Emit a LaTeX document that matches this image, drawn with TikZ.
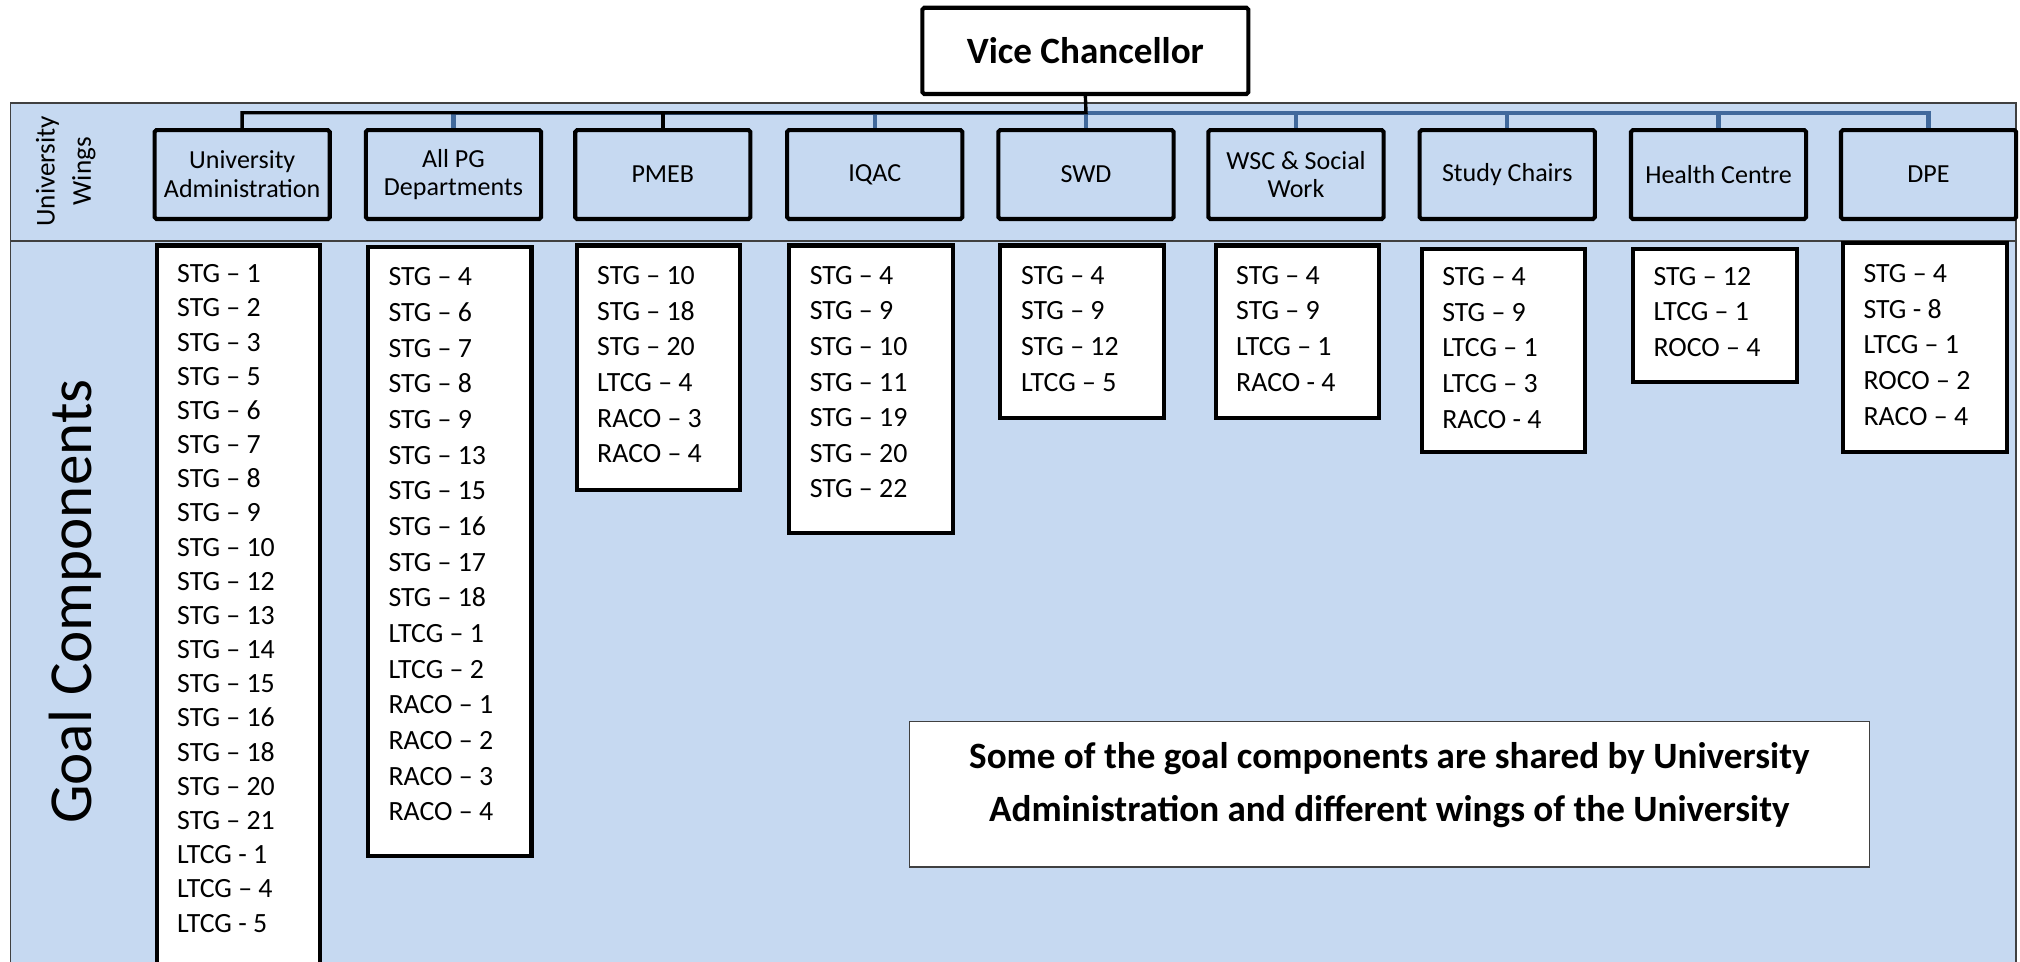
\documentclass[tikz,border=0pt]{standalone}
\usepackage{fontspec}
\setmainfont{Carlito}
\definecolor{bandblue}{HTML}{C6D9F1}
\definecolor{connblue}{HTML}{41699C}
\definecolor{bordergray}{HTML}{404040}
\newcommand{\glines}[2]{\raisebox{#1}[\height][\depth]{\parbox[c]{1.9cm}{\raggedright #2}}}
\begin{document}
\begin{tikzpicture}[x=0.02cm,y=-0.02cm,
  wing/.style={draw=black, line width=1.8pt, fill=bandblue, minimum width=2.72cm, minimum height=1.38cm,
    align=center, font=\fontsize{11.5}{12.8}\selectfont, inner sep=1pt, rounded corners=0.8pt},
  glist/.style={draw=black, line width=1.8pt, fill=white, anchor=north west, inner xsep=0.32cm, inner ysep=0pt,
    minimum width=2.54cm, font=\fontsize{12.3}{15.75}\selectfont},
  vcbox/.style={draw=black, line width=1.8pt, fill=white, minimum width=5.06cm, minimum height=1.34cm,
    font=\bfseries\fontsize{16.4}{20}\selectfont, rounded corners=0.8pt},
  notebox/.style={draw=bordergray, line width=0.6pt, fill=white, minimum width=14.9cm, minimum height=2.26cm},
  notetext/.style={align=center, font=\bfseries\fontsize{16.4}{23.2}\selectfont},
  sidelabel/.style={rotate=90, align=center},
  bluec/.style={draw=connblue, line width=1.9pt},
  blackc/.style={draw=black, line width=1.5pt}]
\useasboundingbox (0,0) rectangle (1568,746);
% background band and lower region
\fill[bandblue] (8,80) rectangle (1565,770);
\draw[bordergray, line width=0.6pt] (8,770) -- (8,80) -- (1565,80) -- (1565,770);
\draw[bordergray, line width=0.6pt] (8,187) -- (1565,187);
% side labels
\node[sidelabel, font=\fontsize{12}{16}\selectfont] (uwlabel) at (51,133) {University\\Wings};
\node[sidelabel, font=\fontsize{27}{30}\selectfont] (gclabel) at (58,467) {Goal Components};
% vice chancellor
\node[vcbox] (vc) at (842.5,39.5) {Vice Chancellor};
% wings
\node[wing] (w1) at (188,135.5) {University\\Administration};
\node[wing] (w2) at (352,135.5) {All PG\\Departments};
\node[wing] (w3) at (514.5,135.5) {PMEB};
\node[wing] (w4) at (679,135.5) {IQAC};
\node[wing] (w5) at (843,135.5) {SWD};
\node[wing] (w6) at (1006,135.5) {WSC \& Social\\Work};
\node[wing] (w7) at (1170,135.5) {Study Chairs};
\node[wing] (w8) at (1334,135.5) {Health Centre};
\node[wing] (w9) at (1497,135.5) {DPE};
% connectors
\coordinate (busB) at (843,87.5);
\coordinate (busK) at (843,87.5);
\draw[bluec] (w2.north) |- (busB) -| (w9.north);
\foreach \n in {w4,w5,w6,w7,w8} \draw[bluec] (\n.north) -- (\n.north |- busB);
\draw[blackc] (w1.north) |- (busK) -- (vc.south);
\draw[blackc] (w3.north) -- (w3.north |- busK);
% goal lists
\node[glist, minimum height=11.62cm] (g1) at (120,189) {\glines{9.4pt}{\fontsize{12.3}{15.1}\selectfont STG – 1\\STG – 2\\STG – 3\\STG – 5\\STG – 6\\STG – 7\\STG – 8\\STG – 9\\STG – 10\\STG – 12\\STG – 13\\STG – 14\\STG – 15\\STG – 16\\STG – 18\\STG – 20\\STG – 21\\LTCG - 1\\LTCG – 4\\LTCG - 5}};
\node[glist, minimum height=9.46cm] (g2) at (284,190) {\glines{3.1pt}{STG – 4\\STG – 6\\STG – 7\\STG – 8\\STG – 9\\STG – 13\\STG – 15\\STG – 16\\STG – 17\\STG – 18\\LTCG – 1\\LTCG – 2\\RACO – 1\\RACO – 2\\RACO – 3\\RACO – 4}};
\node[glist, minimum height=3.8cm] (g3) at (446,189) {\glines{1.4pt}{STG – 10\\STG – 18\\STG – 20\\LTCG – 4\\RACO – 3\\RACO – 4}};
\node[glist, minimum height=4.46cm] (g4) at (611,189) {\glines{3.1pt}{STG – 4\\STG – 9\\STG – 10\\STG – 11\\STG – 19\\STG – 20\\STG – 22}};
\node[glist, minimum height=2.68cm] (g5) at (775,189) {\glines{1.4pt}{STG – 4\\STG – 9\\STG – 12\\LTCG – 5}};
\node[glist, minimum height=2.68cm] (g6) at (942,189) {\glines{1.4pt}{STG – 4\\STG – 9\\LTCG – 1\\RACO - 4}};
\node[glist, minimum height=3.14cm] (g7) at (1102,192) {\glines{1.1pt}{STG – 4\\STG – 9\\LTCG – 1\\LTCG – 3\\RACO - 4}};
\node[glist, minimum height=2.06cm] (g8) at (1266,192) {\glines{1.7pt}{STG – 12\\LTCG – 1\\ROCO – 4}};
\node[glist, minimum height=3.24cm] (g9) at (1429,187) {\glines{1.1pt}{STG – 4\\STG - 8\\LTCG – 1\\ROCO – 2\\RACO – 4}};
% note
\node[notebox] (note) at (1078.5,616.5) {};
\node[notetext] (notetext) at (1078.5,609.5) {Some of the goal components are shared by University\\Administration and different wings of the University};
\end{tikzpicture}
\end{document}
